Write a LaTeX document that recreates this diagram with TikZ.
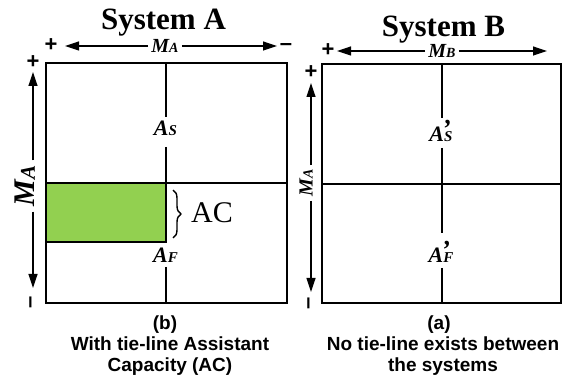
\documentclass[tikz,border=0pt]{standalone}
\usepackage{fontspec}
\setmainfont{Liberation Serif}
\newfontfamily\capsans{Liberation Sans}
\usetikzlibrary{arrows.meta,decorations.pathreplacing}
\definecolor{acgreen}{RGB}{146,208,80}
\newcommand\dimlbl[3]{{\bfseries\itshape\fontsize{#1}{#1}\selectfont M\fontsize{#2}{#2}\selectfont #3}}
\newcommand\alabel[1]{{\bfseries\itshape\fontsize{22}{22}\selectfont A\fontsize{15}{15}\selectfont #1}}
\newcommand\aplabel[1]{{\bfseries\itshape\fontsize{22}{22}\selectfont A\makebox[0pt][l]{\hspace{-2pt}\raisebox{4pt}{\fontsize{26}{26}\selectfont ’}}\fontsize{15}{15}\selectfont #1}}
\tikzset{
  boxline/.style={line width=1.8pt},
  dimarrow/.style={line width=1.2pt, -{Triangle[length=14pt,width=9pt]}},
  sign/.style={font=\capsans\bfseries\fontsize{22}{22}\selectfont, inner sep=0pt},
  titletext/.style={font=\bfseries\fontsize{31}{31}\selectfont, inner sep=0pt, anchor=base},
  captext/.style={font=\capsans\bfseries\fontsize{19}{19}\selectfont, inner sep=0pt, anchor=base},
  dimtext/.style={inner xsep=3pt, inner ysep=0pt},
  ptlabel/.style={inner sep=0pt, anchor=base},
}
\begin{document}
\begin{tikzpicture}[x=1pt,y=-1pt]
\useasboundingbox (0,0) rectangle (563,377);

% ---------- titles ----------
\node[titletext] (titleA) at (163.5,30) {System A};
\node[titletext] (titleB) at (443.5,37) {System B};

% ---------- System A ----------
\coordinate (A-nw) at (46,63);
\coordinate (A-se) at (287,303);
\fill[acgreen] (46,183) rectangle (166,242);
\draw[boxline] (A-nw) rectangle (A-se);
\draw[boxline] (46,183) rectangle (166,242);
\coordinate (A-ml) at (46,183);
\coordinate (A-mr) at (287,183);
\draw[boxline] (A-ml) -- (A-mr);
\coordinate (A-t1) at (166,63);
\coordinate (A-t2) at (166,117);
\coordinate (A-m1) at (166,147);
\coordinate (A-m2) at (166,183);
\coordinate (A-b1) at (166,267);
\coordinate (A-b2) at (166,303);
\draw[boxline] (A-t1) -- (A-t2);
\draw[boxline] (A-m1) -- (A-m2);
\draw[boxline] (A-b1) -- (A-b2);
\node[ptlabel] (AS) at (165.5,136) {\alabel{S}};
\node[ptlabel] (AF) at (165.5,262) {\alabel{F}};

% brace and AC
\coordinate (br-top) at (173,190);
\coordinate (br-bot) at (173,238);
\draw[line width=1.4pt, decorate, decoration={brace, amplitude=8pt}] (br-top) -- (br-bot);
\node[ptlabel, anchor=base west, font=\fontsize{30}{30}\selectfont] (AC) at (191,223) {AC};

% top dimension arrow A
\node[dimtext] (MAtop) at (165,46) {\dimlbl{20}{14}{A}};
\coordinate (A-hl) at (65,46);
\coordinate (A-hr) at (277,46);
\draw[dimarrow] (MAtop.west) -- (A-hl);
\draw[dimarrow] (MAtop.east) -- (A-hr);
\node[sign] (A-hplus) at (51,45) {+};
\node[sign] (A-hminus) at (286,47) {–};

% left dimension arrow A
\node[dimtext, rotate=90, inner xsep=5pt] (MAleft) at (25,186) {\dimlbl{30}{21}{A}};
\coordinate (A-vt) at (33,72);
\coordinate (A-vb) at (33,288);
\draw[dimarrow] (MAleft.east -| A-vt) -- (A-vt);
\draw[dimarrow] (MAleft.west -| A-vb) -- (A-vb);
\node[sign] (A-vplus) at (33,62) {+};
\node[sign, rotate=90] (A-vminus) at (33,302) {–};

% captions A
\node[captext] (capb) at (165,329) {(b)};
\node[captext] (capb1) at (170,350) {With tie-line Assistant};
\node[captext] (capb2) at (170,371) {Capacity (AC)};

% ---------- System B ----------
\coordinate (B-nw) at (322,64);
\coordinate (B-se) at (561,303);
\draw[boxline] (B-nw) rectangle (B-se);
\coordinate (B-ml) at (322,184);
\coordinate (B-mr) at (561,184);
\draw[boxline] (B-ml) -- (B-mr);
\coordinate (B-t1) at (442,64);
\coordinate (B-t2) at (442,118);
\coordinate (B-m1) at (442,148);
\coordinate (B-m2) at (442,233);
\coordinate (B-b1) at (442,268);
\coordinate (B-b2) at (442,303);
\draw[boxline] (B-t1) -- (B-t2);
\draw[boxline] (B-m1) -- (B-m2);
\draw[boxline] (B-b1) -- (B-b2);
\node[ptlabel] (BS) at (441,142) {\aplabel{S}};
\node[ptlabel] (BF) at (441,262) {\aplabel{F}};

% top dimension arrow B
\node[dimtext] (MBtop) at (442,51) {\dimlbl{20}{14}{B}};
\coordinate (B-hl) at (337,51);
\coordinate (B-hr) at (547,51);
\draw[dimarrow] (MBtop.west) -- (B-hl);
\draw[dimarrow] (MBtop.east) -- (B-hr);
\node[sign] (B-hplus) at (328,50) {+};

% left dimension arrow B
\node[dimtext, rotate=90, inner xsep=4pt] (MBleft) at (306,183) {\dimlbl{20}{14}{A}};
\coordinate (B-vt) at (311,83);
\coordinate (B-vb) at (311,292);
\draw[dimarrow] (MBleft.east -| B-vt) -- (B-vt);
\draw[dimarrow] (MBleft.west -| B-vb) -- (B-vb);
\node[sign] (B-vplus) at (311,72) {+};
\node[sign, rotate=90] (B-vminus) at (311,303) {–};

% captions B
\node[captext] (capa) at (439,329) {(a)};
\node[captext] (capa1) at (443,350) {No tie-line exists between};
\node[captext] (capa2) at (443,371) {the systems};
\end{tikzpicture}
\end{document}
